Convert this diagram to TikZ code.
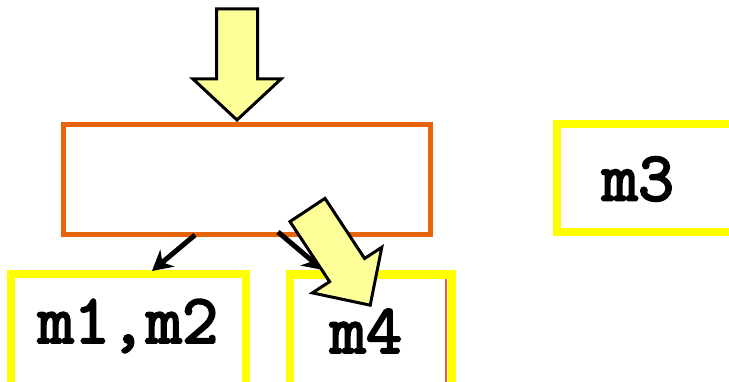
\documentclass[tikz,border=0pt]{standalone}
\usepackage{fontspec}
\newfontfamily\lbfont[FakeBold=3]{Latin Modern Mono}
\usetikzlibrary{arrows.meta}
\definecolor{boxorange}{RGB}{232,100,10}
\definecolor{boxyellow}{RGB}{255,255,0}
\definecolor{arrowfill}{RGB}{255,255,153}
\tikzset{
  ybox/.style={draw=boxyellow, line width=8.5pt, rectangle, inner sep=0pt},
  obox/.style={draw=boxorange, line width=5pt, rectangle, inner sep=0pt},
  lbl/.style={font=\fontsize{70}{70}\selectfont\lbfont, inner sep=0pt},
  blockarrow/.style={draw=black, line width=3pt, fill=arrowfill, line join=miter},
  link/.style={draw=black, line width=5pt, -{Stealth[length=20pt,width=22pt]}}
}
\begin{document}
\begin{tikzpicture}[x=1pt,y=-1pt]
\useasboundingbox (0,0) rectangle (729,382);
\clip (0,0) rectangle (729,382);
% main box
\node[obox, minimum width=367pt, minimum height=110pt] (main) at (246.5,180) {};
% top block arrow
\draw[blockarrow] (216.5,9) -- (257.5,9) -- (257.5,79) -- (281,79) -- (237,120) -- (193,79) -- (216.5,79) -- cycle;
% target boxes
\node[ybox, minimum width=235pt, minimum height=126pt] (b12) at (128.5,337) {};
\draw[boxorange, line width=1.5pt] (287,275) rectangle (446,400);
\node[ybox, minimum width=162pt, minimum height=126pt] (b4) at (371,337.5) {};
\node[ybox, minimum width=213pt, minimum height=108pt] (b3) at (663.5,178) {};
% labels
\node[lbl] (t12) at (128,326) {m1,m2};
\node[lbl] (t4) at (366,331) {m4};
\node[lbl] (t3) at (638,179) {m3};
% connectors
\coordinate (s1) at (195,235);
\coordinate (e1) at (152,271);
\coordinate (s2) at (278,232);
\coordinate (e2) at (323,270);
\draw[link] (s1) -- (e1);
\draw[link] (s2) -- (e2);
% tilted block arrow
\draw[blockarrow] (325,198.4) -- (364.6,258.5) -- (381.8,247.3) -- (370.2,305.2) -- (312.4,292.9) -- (329.6,281.7) -- (290,221.6) -- cycle;
\end{tikzpicture}
\end{document}
